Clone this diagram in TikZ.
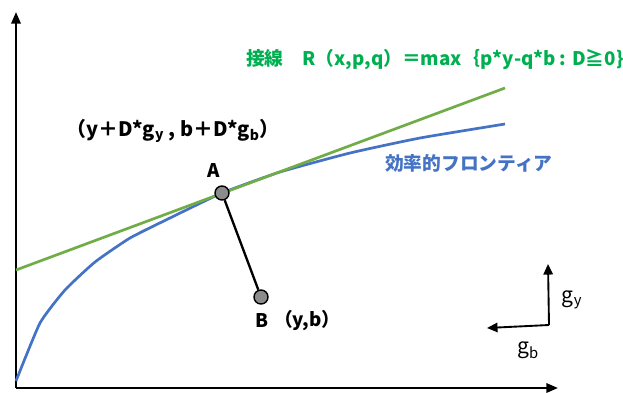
\documentclass[tikz,border=0pt]{standalone}
\usepackage{fontspec}
\setmainfont{Noto Sans CJK JP}
\usetikzlibrary{arrows.meta}
\definecolor{tangentgreen}{RGB}{112,173,71}
\definecolor{labelgreen}{RGB}{0,176,80}
\definecolor{frontblue}{RGB}{68,114,196}
\begin{document}
\begin{tikzpicture}[
        x=0.03cm, y=-0.03cm,
        font=\bfseries\fontsize{16}{18}\selectfont,
        axis/.style={line width=2pt, -{Triangle[length=10pt,width=8pt]}},
        dirarrow/.style={line width=1.6pt, -{Triangle[length=9pt,width=8pt]}},
        dot/.style={circle, draw, line width=1.2pt, fill=gray!90, minimum size=0.42cm, inner sep=0pt},
        every path/.style={line join=round}
    ]

    \useasboundingbox (0,0) rectangle (623,392);

    \coordinate (origin) at (16,388);
    \coordinate (ytop) at (16,12);
    \coordinate (xend) at (558,388);
    \draw[axis] (origin) -- (ytop);
    \draw[axis] (origin) -- (xend);

    % frontier and tangent
    \draw[frontblue, line width=2.3pt] plot[smooth, tension=0.3] coordinates
        {(16,381) (40,323) (65,290) (95,262) (130,238) (170,218) (222,193)
         (280,172) (350,153) (420,138) (505,124)};
    \coordinate (tstart) at (16,270);
    \coordinate (tend) at (505,88);
    \draw[tangentgreen, line width=2.3pt] (tstart) -- (tend);

    \node[dot] (A) at (222,193) {};
    \node[dot] (B) at (261,297) {};
    \draw[line width=2pt] (A) -- (B);

    \node (Alabel) at (214,171) {A};
    \node (Blabel) at (262,321) {B};
    \node[anchor=west] (Bcoord) at (270,321) {（y,b）};
    \node[font=\bfseries\fontsize{17}{19}\selectfont] (direction) at (173,131)
        {（y＋D*g\textsubscript{y} , b＋D*g\textsubscript{b}）};
    \node[text=labelgreen, anchor=west] (tangent) at (242,60)
        {接線\quad R（x,p,q）＝max｛p*y-q*b : D≧0\}};
    \node[text=frontblue, anchor=west] (frontier) at (381,163) {効率的フロンティア};

    % direction vector
    \coordinate (g0) at (549,325);
    \coordinate (gyend) at (548,264);
    \coordinate (gbend) at (487,328);
    \draw[dirarrow] (g0) -- (gyend);
    \draw[dirarrow] (g0) -- (gbend);
    \node[font=\fontsize{18}{20}\selectfont] (gy) at (572,300) {g\textsubscript{y}};
    \node[font=\fontsize{18}{20}\selectfont] (gb) at (528,350) {g\textsubscript{b}};

\end{tikzpicture}
\end{document}
